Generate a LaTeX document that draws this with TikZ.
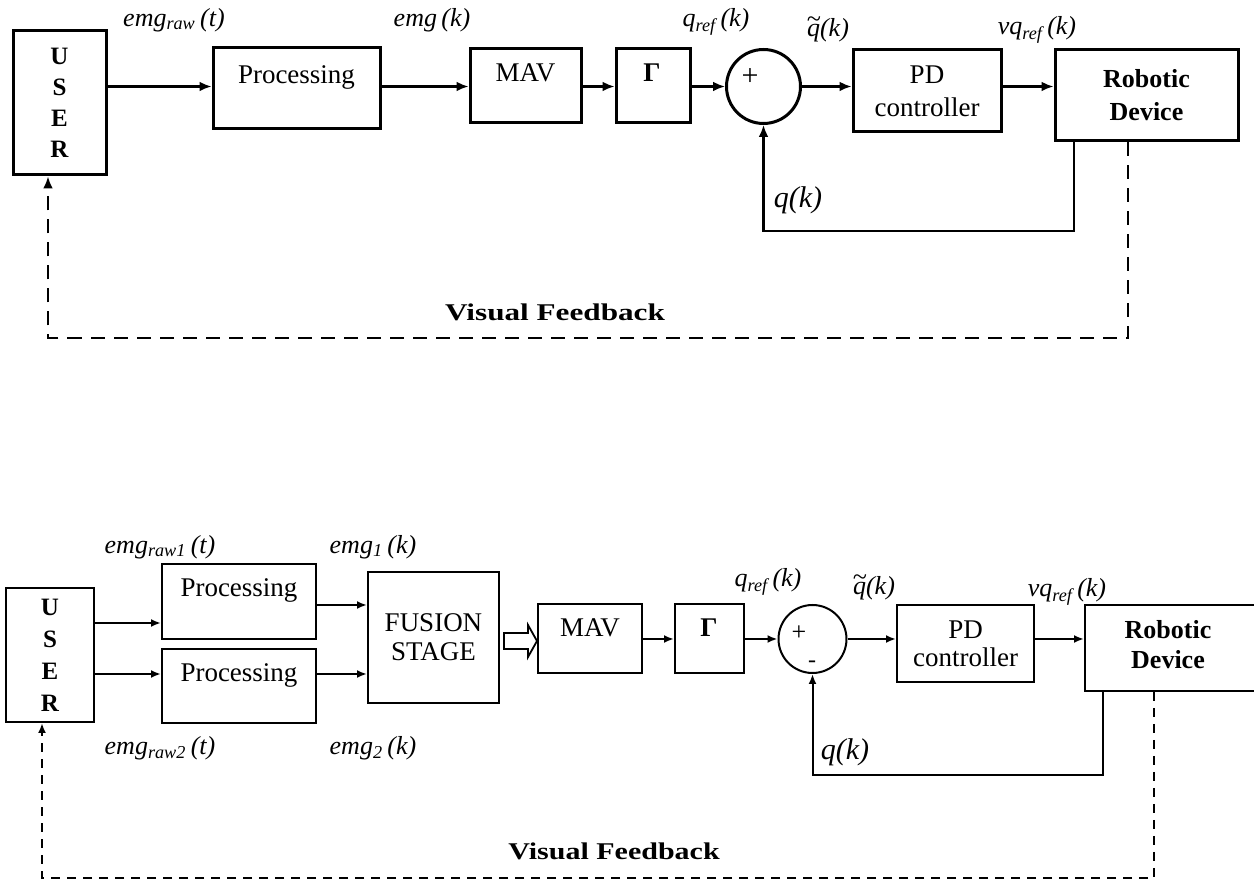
\documentclass[tikz,border=0pt]{standalone}
\usepackage{fontspec}
\setmainfont{Liberation Serif}
\usepackage{graphicx}
\usetikzlibrary{arrows.meta,calc}
\newcommand{\qtil}{\leavevmode\hbox{\ooalign{q\cr\hidewidth\raisebox{0.32em}{\~{}}\hidewidth\cr}}}
\begin{document}
\begin{tikzpicture}[x=0.5pt,y=-0.5pt,
  boxa/.style={draw, fill=white, inner sep=0pt, line width=1.5pt},
  boxb/.style={draw, fill=white, inner sep=0pt, line width=1pt},
  sumc/.style={circle, inner sep=0pt},
  btxt/.style={inner sep=0pt, font=\fontsize{13.5}{16}\selectfont},
  bold/.style={inner sep=0pt, align=center, font=\fontsize{13}{16.5}\selectfont\bfseries},
  lab/.style={inner sep=0pt, font=\fontsize{13}{14}\selectfont\itshape},
  labq/.style={inner sep=0pt, font=\fontsize{15}{18}\selectfont\itshape},
  arra/.style={line width=1.4pt, -{Latex[length=6pt,width=5pt]}},
  arrb/.style={line width=1pt, -{Latex[length=5pt,width=4pt]}},
  dasha/.style={dash pattern=on 7pt off 4.5pt},
  dashb/.style={dash pattern=on 4.5pt off 3.5pt},
]
\useasboundingbox (0,0) rectangle (1254,881);
\clip (0,0) rectangle (1254,881);

% ================= TOP DIAGRAM =================
\node[boxa, minimum width=46.5pt, minimum height=72pt, bold, font=\fontsize{12.5}{15.5}\selectfont\bfseries] (user1) at (59.5,103) {U\\S\\E\\R};
\node[boxa, minimum width=83.5pt, minimum height=40.5pt] (proc1) at (296.5,88.5) {};
\node[btxt, anchor=base] (proc1t) at (296.5,84) {Processing};
\node[boxa, minimum width=55.5pt, minimum height=37pt] (mav1) at (525.5,86) {};
\node[btxt, anchor=base] (mav1t) at (525.5,82) {MAV};
\node[boxa, minimum width=37pt, minimum height=37pt] (gam1) at (653,86) {};
\node[btxt, anchor=base, font=\fontsize{13.5}{16}\selectfont\bfseries] (gam1t) at (652,82) {Γ};
\node[sumc, draw, line width=1.5pt, minimum size=37pt] (sum1) at (763.5,86.5) {};
\node[btxt, font=\fontsize{15}{16}\selectfont] (plus1) at (750,77) {+};
\node[boxa, minimum width=74pt, minimum height=41pt, align=center, font=\fontsize{13.5}{16.5}\selectfont] (pd1) at (927,91) {PD\\controller};
\node[boxa, minimum width=91.5pt, minimum height=45.5pt, bold] (rob1) at (1146.5,95.5) {Robotic\\Device};

\node[lab] (l1) at (174,20) {emg\textsubscript{raw}\,(t)};
\node[lab] (l2) at (432,20) {emg\,(k)};
\node[lab] (l3) at (716,22) {q\textsubscript{ref}\,(k)};
\node[lab] (l4) at (828,30) {\qtil(k)};
\node[lab] (l5) at (1037,30) {vq\textsubscript{ref}\,(k)};
\node[labq] (l6) at (798,200) {q(k)};
\node[inner sep=0pt, font=\fontsize{12}{14}\selectfont\bfseries] (vf1) at (555,312) {\scalebox{1.3}[1]{Visual Feedback}};

\draw[arra] (user1.east |- sum1.west) -- (proc1.west |- sum1.west);
\draw[arra] (proc1.east |- sum1.west) -- (mav1.west |- sum1.west);
\draw[arra] (mav1.east |- sum1.west) -- (gam1.west |- sum1.west);
\draw[arra] (gam1.east |- sum1.west) -- (sum1.west);
\draw[arra] (sum1.east) -- (pd1.west |- sum1.east);
\draw[arra] (pd1.east |- sum1.east) -- (rob1.west |- sum1.east);
\coordinate (fb1) at (1074,231);
\draw[arra] (rob1.south -| fb1) -- (fb1) -| (sum1.south);
\coordinate (vf1r) at (1128,338);
\coordinate (vf1l) at (48,338);
\draw[arra, dasha] (rob1.south -| vf1r) -- (vf1r) -- (vf1l) -- (vf1l |- user1.south);

% ================= BOTTOM DIAGRAM =================
\node[boxb, minimum width=44pt, minimum height=67pt, bold, font=\fontsize{12.5}{16}\selectfont\bfseries] (user2) at (50,655) {U\\S\\E\\R};
\node[boxb, minimum width=77pt, minimum height=37.5pt] (proc2a) at (239,601.5) {};
\node[btxt, anchor=base] (proc2at) at (239,597) {Processing};
\node[boxb, minimum width=77pt, minimum height=37pt] (proc2b) at (239,686) {};
\node[btxt, anchor=base] (proc2bt) at (239,682) {Processing};
\node[boxb, minimum width=65.5pt, minimum height=65.5pt, align=center, font=\fontsize{13.5}{14.5}\selectfont] (fus) at (433.5,637.5) {FUSION\\STAGE};
\node[boxb, minimum width=52pt, minimum height=34.5pt] (mav2) at (590,638.5) {};
\node[btxt, anchor=base] (mav2t) at (590,637) {MAV};
\node[boxb, minimum width=34.5pt, minimum height=34.5pt] (gam2) at (709.5,638.5) {};
\node[btxt, anchor=base, font=\fontsize{13.5}{16}\selectfont\bfseries] (gam2t) at (709,637) {Γ};
\node[sumc, draw, line width=1pt, minimum size=34pt] (sum2) at (812.5,639) {};
\node[btxt, font=\fontsize{13}{14}\selectfont] (plus2) at (799,633) {+};
\node[btxt, font=\fontsize{12}{14}\selectfont] (minus2) at (812,664) {-};
\node[boxb, minimum width=68.5pt, minimum height=38.5pt, align=center, font=\fontsize{13.5}{14}\selectfont] (pd2) at (965.5,643.5) {PD\\controller};
\node[boxb, minimum width=85.5pt, minimum height=43pt] (rob2) at (1170.5,648) {};
\node[bold, font=\fontsize{13}{15}\selectfont\bfseries] (rob2t) at (1168,645) {Robotic\\Device};

\node[lab] (m1) at (160,547) {emg\textsubscript{raw1}\,(t)};
\node[lab] (m2) at (373,547) {emg\textsubscript{1}\,(k)};
\node[lab] (m3) at (160,748) {emg\textsubscript{raw2}\,(t)};
\node[lab] (m4) at (373,748) {emg\textsubscript{2}\,(k)};
\node[lab] (m5) at (768,582) {q\textsubscript{ref}\,(k)};
\node[lab] (m6) at (874,588) {\qtil(k)};
\node[lab] (m7) at (1067,592) {vq\textsubscript{ref}\,(k)};
\node[labq] (m8) at (845,752) {q(k)};
\node[inner sep=0pt, font=\fontsize{12}{14}\selectfont\bfseries] (vf2) at (614,851) {\scalebox{1.25}[1]{Visual Feedback}};

\coordinate (ya) at (0,623);
\coordinate (yb) at (0,674);
\coordinate (yc) at (0,605);
\draw[arrb] (user2.east |- ya) -- (proc2a.west |- ya);
\draw[arrb] (user2.east |- yb) -- (proc2b.west |- yb);
\draw[arrb] (proc2a.east |- yc) -- (fus.west |- yc);
\draw[arrb] (proc2b.east |- yb) -- (fus.west |- yb);
\coordinate (ha) at ($(fus.east)+(4,3.5)$);
\draw[line width=0.9pt, fill=white, line join=miter]
  (ha) ++(0,-8) -- ++(24,0) -- ++(0,-8) -- ($(mav2.west)+(0,2.5)$)
  -- ($(ha)+(24,16)$) -- ++(0,-8) -- ++(-24,0) -- cycle;
\draw[arrb] (mav2.east |- sum2.west) -- (gam2.west |- sum2.west);
\draw[arrb] (gam2.east |- sum2.west) -- (sum2.west);
\draw[arrb] (sum2.east) -- (pd2.west |- sum2.east);
\draw[arrb] (pd2.east |- sum2.east) -- (rob2.west |- sum2.east);
\coordinate (fb2) at (1103,775);
\draw[arrb] (rob2.south -| fb2) -- (fb2) -| (sum2.south);
\coordinate (vf2r) at (1154,878);
\coordinate (vf2l) at (42,878);
\draw[arrb, dashb] (rob2.south -| vf2r) -- (vf2r) -- (vf2l) -- (vf2l |- user2.south);
\end{tikzpicture}
\end{document}
